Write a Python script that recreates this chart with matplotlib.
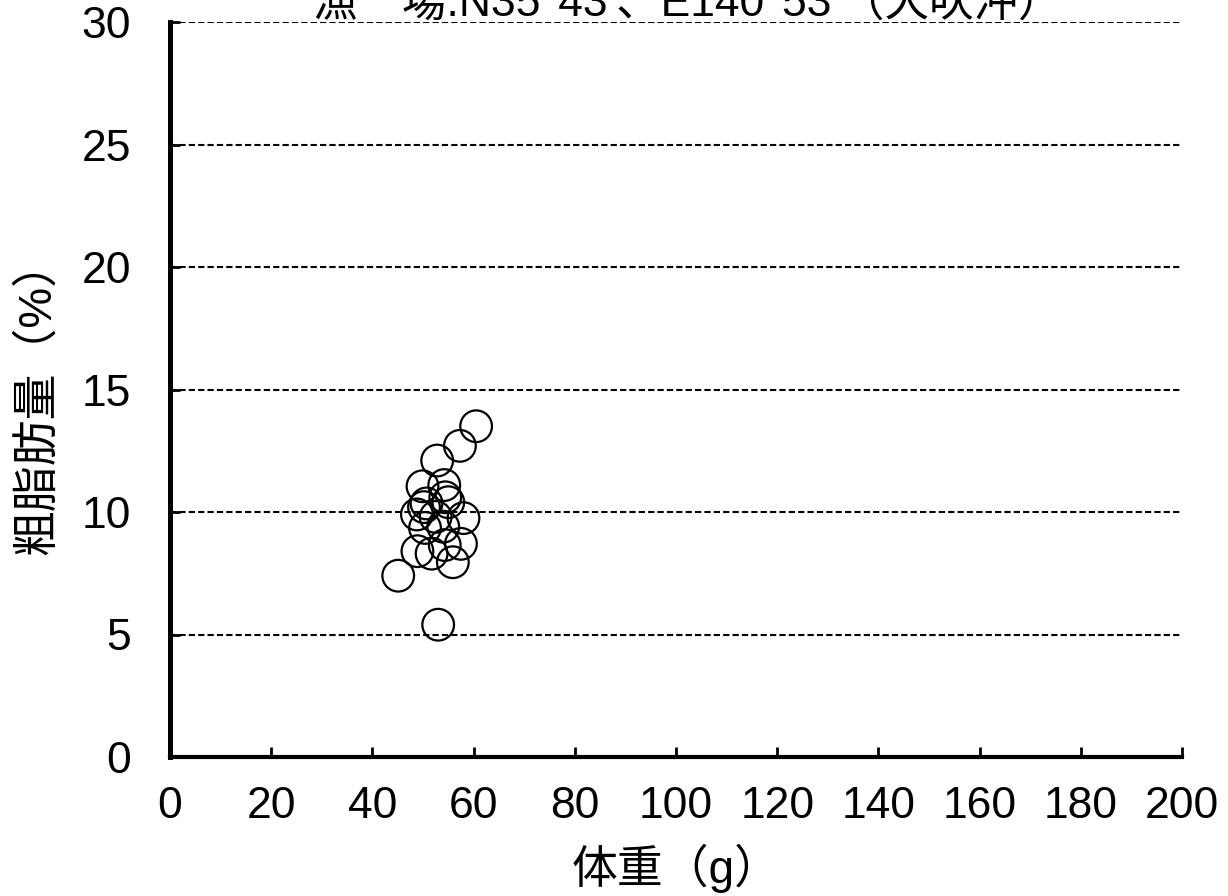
#!/usr/bin/env python3

import matplotlib
matplotlib.use("Agg")
import matplotlib.pyplot as plt

plt.rcParams['font.family'] = ['Liberation Sans', 'Noto Sans CJK JP', 'DejaVu Sans']

# body weight (g) and crude fat (%)
weight = [60.5, 57.3, 52.8, 49.9, 54.2, 54.4, 55.0, 50.7, 48.8, 52.5, 58.0,
          50.4, 54.0, 48.9, 51.7, 54.3, 57.5, 55.9, 45.1, 53.0, 50.2]
fat = [13.5, 12.7, 12.1, 11.05, 11.1, 10.6, 10.4, 10.35, 9.9, 9.8, 9.75,
       9.35, 9.4, 8.4, 8.3, 8.65, 8.7, 7.95, 7.4, 5.4, 10.2]

xticks = list(range(0, 201, 20))
yticks = list(range(0, 31, 5))
title = "漁　場:N35°43'、E140°53'（犬吠沖）"


def main():
	fig = plt.figure(figsize=(12.28, 8.96), dpi=100)
	ax = fig.add_axes([170/1228, 1-757/896, 1012/1228, 735/896])

	for y in yticks[1:]:
		ax.axhline(y, color='black', lw=1.5, ls=(0, (3, 1.5)), zorder=1)

	ax.scatter(weight, fat, s=520, facecolors='none', edgecolors='black',
		linewidths=1.6, zorder=3, clip_on=False)

	ax.set_xlim(0, 200)
	ax.set_ylim(0, 30)
	ax.set_xticks(xticks)
	ax.set_yticks(yticks)

	for s in ['top', 'right']:
		ax.spines[s].set_visible(False)
	ax.spines['left'].set_linewidth(3.6)
	ax.spines['bottom'].set_linewidth(3.0)

	ax.tick_params(axis='x', direction='in', length=7, width=2, pad=21, labelsize=32)
	ax.tick_params(axis='y', direction='in', length=7, width=2, pad=28, labelsize=32)

	ax.set_xlabel("体重（g）", fontsize=33)
	ax.set_ylabel("粗脂肪量（%）", fontsize=33)
	ax.xaxis.set_label_coords(0.5, -0.118)
	ax.yaxis.set_label_coords(-0.109, 0.49)

	fig.text(688/1228, 1-4/896, title, fontsize=32, ha='center', va='center')

	fig.savefig("out.png", dpi=100)


if __name__ == '__main__':
	main()
